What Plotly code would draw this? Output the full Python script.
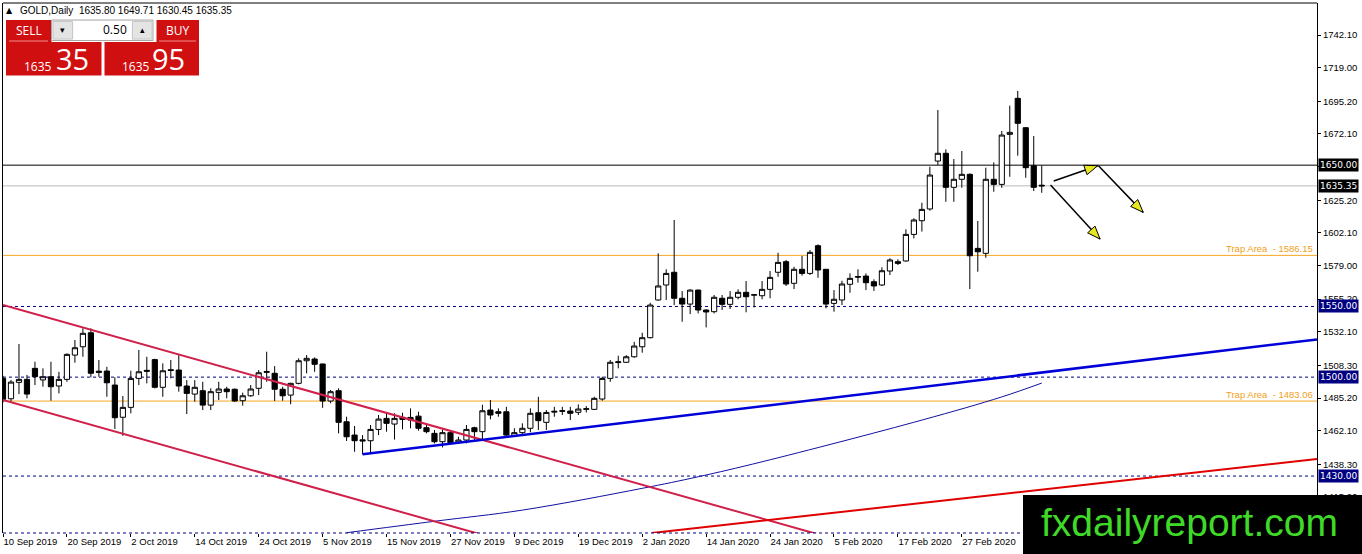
import plotly.graph_objects as go

# GOLD daily bars, bar 0 = 10 Sep 2019, last bar = 12 Mar 2020
opens = [1499.1, 1484.7, 1496.3, 1498.4, 1506.2, 1498.0, 1500.3, 1493.7, 1498.4, 1515.6,
         1521.5, 1531.4, 1504.2, 1504.3, 1494.4, 1471.6, 1478.6, 1499.1, 1504.8, 1512.4,
         1492.8, 1505.2, 1505.0, 1493.7, 1488.0, 1490.4, 1480.2, 1489.2, 1491.6, 1491.4,
         1483.3, 1486.8, 1492.1, 1504.0, 1502.7, 1491.4, 1487.3, 1495.6, 1511.6, 1512.8,
         1509.3, 1483.1, 1490.4, 1468.4, 1459.0, 1455.6, 1455.0, 1463.0, 1470.8, 1466.8,
         1471.5, 1471.5, 1472.4, 1464.2, 1460.2, 1454.3, 1460.7, 1453.9, 1455.5, 1464.2,
         1461.4, 1476.7, 1475.5, 1475.5, 1458.5, 1460.7, 1463.8, 1474.8, 1468.0, 1475.2,
         1475.8, 1476.0, 1475.1, 1477.2, 1477.2, 1484.5, 1499.1, 1510.3, 1510.5, 1514.4,
         1521.5, 1527.9, 1554.6, 1565.2, 1574.2, 1555.8, 1551.7, 1561.6, 1547.5, 1546.3,
         1555.8, 1551.5, 1556.5, 1560.0, 1558.0, 1557.6, 1562.1, 1574.2, 1581.7, 1566.4,
         1576.3, 1573.4, 1593.0, 1576.3, 1552.2, 1554.6, 1565.7, 1571.2, 1571.5, 1567.5,
         1565.2, 1575.1, 1581.7, 1582.2, 1601.0, 1610.7, 1619.0, 1652.9, 1658.4, 1634.3,
         1640.0, 1643.5, 1591.1, 1587.6, 1640.0, 1636.4, 1671.8, 1697.3, 1676.5, 1649.6,
         1635.80]
highs = [1501.0, 1498.0, 1523.4, 1501.5, 1510.9, 1506.2, 1510.9, 1503.8, 1516.8, 1526.3,
         1534.5, 1534.5, 1512.1, 1507.3, 1499.9, 1486.6, 1504.5, 1519.2, 1514.4, 1513.0,
         1509.7, 1512.1, 1515.6, 1497.9, 1497.9, 1496.7, 1492.1, 1496.7, 1493.2, 1492.0,
         1489.0, 1494.4, 1505.0, 1518.0, 1507.8, 1493.2, 1496.0, 1513.3, 1515.6, 1514.0,
         1509.5, 1490.9, 1492.1, 1472.0, 1465.4, 1459.0, 1466.1, 1473.2, 1473.9, 1474.4,
         1474.8, 1477.9, 1475.5, 1466.1, 1462.6, 1463.0, 1461.5, 1457.8, 1466.1, 1464.9,
         1480.5, 1483.8, 1477.9, 1479.0, 1463.8, 1467.3, 1477.9, 1486.1, 1476.7, 1479.0,
         1479.0, 1479.0, 1480.7, 1479.5, 1486.1, 1500.3, 1512.1, 1515.1, 1515.6, 1525.0,
         1531.4, 1552.6, 1587.6, 1576.3, 1611.2, 1560.9, 1562.1, 1561.9, 1548.0, 1558.1,
         1558.1, 1560.9, 1562.1, 1568.0, 1558.8, 1568.0, 1575.1, 1588.0, 1582.9, 1578.1,
         1585.7, 1589.9, 1594.0, 1576.5, 1561.6, 1568.2, 1573.4, 1576.3, 1573.4, 1569.2,
         1577.7, 1584.1, 1583.4, 1604.6, 1612.4, 1623.4, 1648.9, 1689.0, 1661.2, 1654.3,
         1660.0, 1644.2, 1610.5, 1648.2, 1652.0, 1674.2, 1692.1, 1702.5, 1677.0, 1670.6,
         1649.71]
lows = [1482.0, 1483.0, 1488.0, 1485.0, 1494.4, 1493.2, 1483.3, 1488.5, 1496.7, 1510.2,
        1514.4, 1499.9, 1500.3, 1486.1, 1463.3, 1458.5, 1474.4, 1494.4, 1495.6, 1492.0,
        1486.1, 1499.1, 1489.7, 1473.9, 1482.6, 1476.7, 1476.7, 1483.8, 1485.0, 1482.5,
        1479.8, 1486.1, 1487.3, 1496.7, 1483.1, 1483.3, 1480.8, 1494.9, 1502.7, 1503.8,
        1478.3, 1481.5, 1460.2, 1454.8, 1447.2, 1445.4, 1446.1, 1459.0, 1461.4, 1455.8,
        1463.0, 1463.8, 1462.1, 1460.2, 1453.1, 1450.3, 1453.0, 1453.1, 1453.1, 1454.3,
        1455.5, 1470.1, 1472.0, 1457.8, 1457.8, 1459.0, 1461.0, 1462.6, 1462.6, 1472.0,
        1473.2, 1469.6, 1473.2, 1475.0, 1476.7, 1483.3, 1496.7, 1506.2, 1510.2, 1513.7,
        1517.3, 1527.4, 1554.1, 1554.6, 1551.0, 1539.2, 1544.6, 1545.1, 1535.2, 1545.1,
        1547.5, 1548.2, 1555.1, 1545.9, 1549.4, 1555.1, 1555.8, 1571.0, 1564.5, 1562.3,
        1571.8, 1572.3, 1570.3, 1548.7, 1546.3, 1551.0, 1559.7, 1566.8, 1561.6, 1561.0,
        1564.5, 1572.3, 1579.3, 1581.7, 1598.2, 1603.0, 1617.8, 1650.1, 1624.1, 1624.1,
        1634.0, 1562.3, 1574.6, 1584.5, 1631.2, 1634.0, 1641.8, 1656.7, 1641.1, 1631.7,
        1630.45]
closes = [1484.3, 1496.5, 1498.4, 1488.0, 1500.3, 1500.3, 1493.2, 1498.4, 1516.1, 1520.8,
          1531.0, 1502.7, 1503.4, 1496.0, 1471.3, 1478.6, 1499.1, 1503.8, 1504.2, 1492.8,
          1504.5, 1504.8, 1493.7, 1488.5, 1492.8, 1480.2, 1489.7, 1491.6, 1489.7, 1483.1,
          1486.8, 1491.6, 1503.1, 1503.5, 1491.4, 1486.8, 1495.6, 1511.6, 1513.3, 1509.1,
          1483.1, 1489.7, 1468.0, 1457.8, 1455.0, 1454.9, 1463.0, 1470.3, 1467.3, 1470.8,
          1470.1, 1469.6, 1463.8, 1461.4, 1454.3, 1460.7, 1453.6, 1455.5, 1463.0, 1461.4,
          1476.2, 1473.2, 1474.4, 1459.0, 1460.7, 1463.8, 1474.4, 1469.2, 1475.0, 1475.8,
          1476.2, 1474.4, 1477.4, 1477.6, 1485.0, 1499.1, 1510.5, 1510.8, 1514.4, 1522.0,
          1527.9, 1551.0, 1564.5, 1573.4, 1555.8, 1551.7, 1561.6, 1547.5, 1546.1, 1556.5,
          1551.5, 1556.5, 1560.0, 1556.9, 1558.3, 1562.1, 1570.6, 1581.2, 1565.9, 1576.3,
          1573.4, 1588.3, 1575.8, 1551.7, 1555.1, 1565.9, 1569.9, 1570.8, 1566.8, 1564.5,
          1575.3, 1582.9, 1580.5, 1601.0, 1611.2, 1618.7, 1643.0, 1658.4, 1634.3, 1640.0,
          1643.5, 1585.9, 1588.7, 1640.0, 1636.4, 1671.3, 1673.2, 1679.6, 1648.2, 1634.3,
          1635.35]

date_ticks = [0, 8, 16, 24, 32, 40, 48, 56, 64, 72, 80, 88, 96, 104, 112, 120, 128]
date_labels = ["10 Sep 2019", "20 Sep 2019", "2 Oct 2019", "14 Oct 2019", "24 Oct 2019",
               "5 Nov 2019", "15 Nov 2019", "27 Nov 2019", "9 Dec 2019", "19 Dec 2019",
               "2 Jan 2020", "14 Jan 2020", "24 Jan 2020", "5 Feb 2020", "17 Feb 2020",
               "27 Feb 2020", "10 Mar 2020"]
price_ticks = [1742.10, 1719.00, 1695.20, 1672.10, 1648.90, 1625.20, 1602.10, 1579.00,
               1555.20, 1532.10, 1508.30, 1485.20, 1462.10, 1438.30, 1415.20]

resistance = 1650.00
bid = 1635.35
dashed_levels = [1550.00, 1500.00, 1430.00]
trap_levels = [1586.15, 1483.06]

# moving average (thin navy curve)
ma_bars = [43, 54, 65, 80, 87, 95, 115, 125, 130]
ma_vals = [1389.9, 1398.0, 1405.9, 1421.3, 1429.5, 1440.1, 1469.6, 1486.0, 1495.8]

# trend lines
chan_bars = [0, 110]
chan_upper = [1551.0, 1376.1]
chan_lower = [1483.8, 1308.9]
support_bars = [45.0, 164.45]
support_vals = [1445.4, 1526.7]
red_bars = [81.2, 164.45]
red_vals = [1389.7, 1442.0]

# hand drawn arrows (start bar, start price) -> (end bar, end price)
arrow_from = [(131.5, 1638.8), (137.1, 1649.6), (131.1, 1636.0)]
arrow_to = [(137.0, 1649.6), (142.7, 1616.6), (137.3, 1597.7)]

# ---- page geometry ----
W, H = 1362, 554
ML, MR, MT, MB = 3, 45, 3, 21
PW, PH = W - ML - MR, H - MT - MB
X_RANGE = [0, 164.45]
Y_RANGE = [1389.7, 1764.75]
SX = PW / (X_RANGE[1] - X_RANGE[0])
SY = PH / (Y_RANGE[1] - Y_RANGE[0])
FONT = "DejaVu Sans"
AXFONT = "Liberation Sans"


def px(x):
    return (x - ML) / PW


def py(y):
    return (H - MB - y) / PH


def arrow_head(x0, y0, x1, y1, length=13, half=5):
    dx, dy = (x1 - x0) * SX, (y1 - y0) * SY
    d = (dx * dx + dy * dy) ** 0.5
    ux, uy = dx / d, dy / d
    tx, ty = x1 * SX, y1 * SY
    bx, by = tx - ux * length, ty - uy * length
    pts = [(tx, ty), (bx - uy * half, by + ux * half), (bx + uy * half, by - ux * half)]
    return "M " + " L ".join(f"{a / SX:.4f},{b / SY:.4f}" for a, b in pts) + " Z"


def box(x0, y0, x1, y1, fill, line_color=None):
    return dict(type="rect", xref="paper", yref="paper", layer="above",
                x0=px(x0), x1=px(x1), y0=py(y1), y1=py(y0), fillcolor=fill,
                line=dict(width=1 if line_color else 0, color=line_color or fill))


def text(t, x, y, size, color, xanchor="center", family="Open Sans"):
    return dict(text=t, xref="paper", yref="paper", x=px(x), y=py(y), showarrow=False,
                xanchor=xanchor, yanchor="middle", font=dict(size=size, color=color, family=family))


bars = list(range(len(opens)))

fig = go.Figure()
fig.add_trace(go.Candlestick(
    x=bars, open=opens, high=highs, low=lows, close=closes,
    increasing=dict(line=dict(color="black", width=1), fillcolor="white"),
    decreasing=dict(line=dict(color="black", width=1), fillcolor="black"),
    whiskerwidth=0, hoverinfo="skip", showlegend=False))

fig.add_trace(go.Scatter(x=ma_bars, y=ma_vals, mode="lines", line=dict(color="#1010A0", width=1, shape="spline"),
                         hoverinfo="skip", showlegend=False))
for ys in (chan_upper, chan_lower):
    fig.add_trace(go.Scatter(x=chan_bars, y=ys, mode="lines", line=dict(color="#D0204A", width=2),
                             hoverinfo="skip", showlegend=False))
fig.add_trace(go.Scatter(x=support_bars, y=support_vals, mode="lines", line=dict(color="#0000D8", width=2.5),
                         hoverinfo="skip", showlegend=False))
fig.add_trace(go.Scatter(x=red_bars, y=red_vals, mode="lines", line=dict(color="#E00000", width=2),
                         hoverinfo="skip", showlegend=False))

shapes = []
shapes.append(dict(type="line", xref="paper", yref="y", x0=0, x1=1, y0=resistance, y1=resistance,
                   line=dict(color="black", width=1), layer="below"))
shapes.append(dict(type="line", xref="paper", yref="y", x0=0, x1=1, y0=bid, y1=bid,
                   line=dict(color="#BBBBBB", width=1), layer="below"))
for lv in dashed_levels:
    shapes.append(dict(type="line", xref="paper", yref="y", x0=0, x1=1, y0=lv, y1=lv,
                       line=dict(color="#000080", width=1, dash="3px,3px"), layer="below"))
for lv in trap_levels:
    shapes.append(dict(type="line", xref="paper", yref="y", x0=0, x1=1, y0=lv, y1=lv,
                       line=dict(color="#F5A623", width=1), layer="below"))
# frame: top solid, bottom dashed
shapes.append(dict(type="line", xref="paper", yref="paper", x0=0, x1=1, y0=1, y1=1,
                   line=dict(color="black", width=1)))
shapes.append(dict(type="line", xref="paper", yref="paper", x0=0, x1=1, y0=0, y1=0,
                   line=dict(color="#000080", width=1, dash="3px,3px")))

for (x0, y0), (x1, y1) in zip(arrow_from, arrow_to):
    shapes.append(dict(type="line", xref="x", yref="y", x0=x0, y0=y0, x1=x1, y1=y1,
                       line=dict(color="black", width=1.5)))
    shapes.append(dict(type="path", xref="x", yref="y", path=arrow_head(x0, y0, x1, y1),
                       fillcolor="#E8E820", line=dict(color="black", width=1)))

# one-click trading panel
RED = "#D01010"
shapes += [
    box(6, 20, 51.5, 42, RED),
    box(156.5, 20, 199, 42, RED),
    box(6, 42, 101.5, 75.5, RED),
    box(104.5, 42, 199, 75.5, RED),
    box(51.5, 20, 153, 40.5, "#F2F2F2", "#A8A8A8"),
    box(73.5, 21, 131.5, 40, "white"),
    box(53, 21.5, 72.5, 39, "#E4E4E4", "#C8C8C8"),
    box(132.5, 21.5, 152, 39, "#E4E4E4", "#C8C8C8"),
    dict(type="line", xref="paper", yref="paper", layer="above", x0=px(9), x1=px(48), y0=py(41), y1=py(41),
         line=dict(color="#F08A8A", width=1)),
    dict(type="line", xref="paper", yref="paper", layer="above", x0=px(159), x1=px(196), y0=py(41), y1=py(41),
         line=dict(color="#F08A8A", width=1)),
]
# watermark
shapes.append(box(1023, 495, 1362, 554, "black"))

annotations = [
    text("▲", 9.5, 10.5, 8, "black", family=FONT),
    text("GOLD,Daily  1635.80 1649.71 1630.45 1635.35", 18, 10.5, 10, "black", "left", AXFONT),
    text("SELL", 28.7, 31, 12, "white"),
    text("BUY", 177.8, 31, 12, "white"),
    text("0.50", 129, 30, 12, "black", "right"),
    text("▾", 62.8, 30, 9, "black", family=FONT),
    text("▴", 142.2, 30, 9, "black", family=FONT),
    text("1635", 22, 66.5, 12, "white", "left"),
    text("35", 53.5, 58.5, 29, "white", "left"),
    text("1635", 120, 66.5, 12, "white", "left"),
    text("95", 149.5, 58.5, 29, "white", "left"),
    text("fxdailyreport.com", 1189, 522, 39, "#3FDA28", family="Liberation Sans"),
]
for lv in trap_levels:
    annotations.append(dict(text=f"Trap Area  - {lv:.2f}", xref="paper", yref="y", x=px(1315), y=lv,
                            xanchor="right", yanchor="bottom", showarrow=False, yshift=-1,
                            font=dict(size=9.5, color="#F0A020", family=AXFONT)))
for lv, bg in [(resistance, "black"), (bid, "black")] + [(d, "#000080") for d in dashed_levels]:
    annotations.append(dict(text=f"{lv:.2f}", xref="paper", yref="y", x=px(1318), y=lv,
                            xanchor="left", yanchor="middle", showarrow=False, bgcolor=bg, borderpad=1,
                            font=dict(size=9, color="white", family=FONT)))

fig.update_layout(
    width=W, height=H,
    margin=dict(l=ML, r=MR, t=MT, b=MB, autoexpand=False),
    paper_bgcolor="white", plot_bgcolor="white",
    boxgap=0.35, boxgroupgap=0,
    shapes=shapes, annotations=annotations,
    showlegend=False, hovermode=False,
    xaxis=dict(range=X_RANGE, tickvals=date_ticks, ticktext=date_labels, ticks="outside", ticklen=3,
               tickcolor="black", ticklabelposition="outside right", tickangle=0, automargin=False,
               showgrid=False, zeroline=False, showline=False, rangeslider=dict(visible=False),
               tickfont=dict(size=9.5, color="black", family=AXFONT)),
    yaxis=dict(range=Y_RANGE, side="right", tickvals=price_ticks, ticktext=[f"{v:.2f}" for v in price_ticks],
               ticks="outside", ticklen=3, tickcolor="black", showline=True, linecolor="black", mirror=True,
               automargin=False, showgrid=False, zeroline=False,
               tickfont=dict(size=9.5, color="black", family=AXFONT)),
)

# the page's default body margin would push the figure 8px off the window
fig.write_html("out.html", config={"displayModeBar": False},
               post_script="document.body.style.margin='0';")
